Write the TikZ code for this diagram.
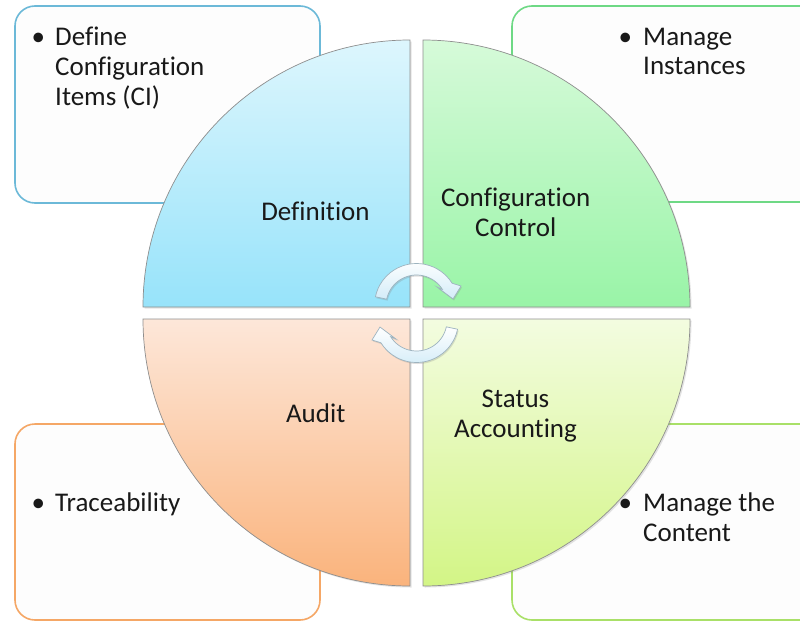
\documentclass[tikz,border=0pt]{standalone}
\usepackage{fontspec}
\setmainfont{Carlito}[Ligatures=CommonOff]
\usetikzlibrary{shadows}
\definecolor{boxblue}{HTML}{6CB9D8}
\definecolor{boxgreen}{HTML}{6ED985}
\definecolor{boxorange}{HTML}{F5A766}
\definecolor{boxlime}{HTML}{A9E068}
\definecolor{boxfill}{HTML}{FDFDFD}
\definecolor{defTop}{HTML}{DDF6FD}
\definecolor{defBot}{HTML}{97E3FA}
\definecolor{conTop}{HTML}{D6FAD9}
\definecolor{conBot}{HTML}{99F4A7}
\definecolor{audTop}{HTML}{FDE7D9}
\definecolor{audBot}{HTML}{FAB37C}
\definecolor{staTop}{HTML}{F3FCE0}
\definecolor{staBot}{HTML}{D3F586}
\definecolor{quadline}{HTML}{8E8E8E}
\definecolor{arrowline}{HTML}{9DB3BF}
\definecolor{arrowfill}{HTML}{D3ECF8}
\begin{document}
\begin{tikzpicture}[x=1pt,y=-1pt,
  itembox/.style={line width=1.6pt, fill=boxfill, rounded corners=20pt},
  quad/.style={draw=quadline, line width=0.7pt,
    drop shadow={opacity=0.22, shadow xshift=1.5pt, shadow yshift=-1.5pt}},
  cyclearrow/.style={draw=arrowline, line width=0.7pt, top color=white, bottom color=arrowfill,
    drop shadow={opacity=0.25, shadow xshift=1pt, shadow yshift=-1.5pt}},
  lbl/.style={font=\fontsize{27}{30}\selectfont, inner sep=0pt, anchor=base west, text=black!90},
  qlbl/.style={font=\fontsize{27}{30}\selectfont, inner sep=0pt, anchor=base, text=black!90}]
\clip (0,0) rectangle (800,621);
\fill[white] (0,0) rectangle (800,621);

% outer text boxes
\draw[itembox, draw=boxblue] (15,6) rectangle (320,203);
\draw[itembox, draw=boxgreen] (512,6) rectangle (840,202);
\draw[itembox, draw=boxorange] (15,424) rectangle (320,620);
\draw[itembox, draw=boxlime] (512,424) rectangle (840,620);

% quadrants
\draw[quad, top color=defTop, bottom color=defBot]
  (410,307) -- (143,307) arc[start angle=180, end angle=270, radius=267] -- cycle;
\draw[quad, top color=conTop, bottom color=conBot]
  (423,307) -- (423,40) arc[start angle=270, end angle=360, radius=267] -- cycle;
\draw[quad, top color=audTop, bottom color=audBot]
  (410,319) -- (410,586) arc[start angle=90, end angle=180, radius=267] -- cycle;
\draw[quad, top color=staTop, bottom color=staBot]
  (423,319) -- (690,319) arc[start angle=0, end angle=90, radius=267] -- cycle;

% cycle arrows
\begin{scope}[shift={(416.5,305.5)}]
\draw[cyclearrow] (192:42) arc[start angle=192, end angle=328, radius=42]
  -- (44.5,-19.5) -- (36.5,-6.5) -- (20.5,-18.5)
  -- (328:30.5) arc[start angle=328, end angle=192, radius=30.5] -- cycle;
\end{scope}
\begin{scope}[shift={(416.5,320.5)}, rotate=180]
\draw[cyclearrow] (192:42) arc[start angle=192, end angle=328, radius=42]
  -- (44.5,-19.5) -- (36.5,-6.5) -- (20.5,-18.5)
  -- (328:30.5) arc[start angle=328, end angle=192, radius=30.5] -- cycle;
\end{scope}

% quadrant labels
\node[qlbl] (qdef) at (315.5,220.7) {Definition};
\node[qlbl] (qcon1) at (515.7,206.7) {Configuration};
\node[qlbl] (qcon2) at (515.7,236) {Control};
\node[qlbl] (qaud) at (315.7,422.3) {Audit};
\node[qlbl] (qsta1) at (515.5,407.7) {Status};
\node[qlbl] (qsta2) at (515.5,437) {Accounting};

% box texts
\node[lbl] (tlb) at (31.5,45) {•};
\node[lbl] (tl1) at (55,45) {Define};
\node[lbl] (tl2) at (55,75) {Configuration};
\node[lbl] (tl3) at (55,105) {Items (CI)};

\node[lbl] (trb) at (618.5,45) {•};
\node[lbl] (tr1) at (643,45) {Manage};
\node[lbl] (tr2) at (643,74.5) {Instances};

\node[lbl] (blb) at (31.5,511.5) {•};
\node[lbl] (bl1) at (55,511.5) {Traceability};

\node[lbl] (brb) at (618.5,511.5) {•};
\node[lbl] (br1) at (643,511.5) {Manage the};
\node[lbl] (br2) at (643,541.5) {Content};
\end{tikzpicture}
\end{document}
